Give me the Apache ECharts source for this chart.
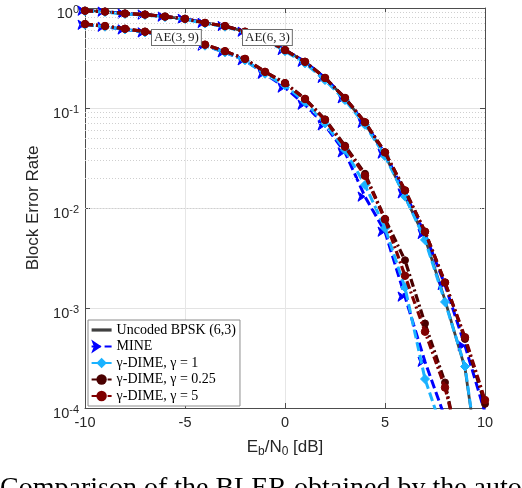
<!DOCTYPE html>
<html><head><meta charset="utf-8">
<script src="https://cdn.jsdelivr.net/npm/echarts@6/dist/echarts.min.js"></script>
<style>html,body{margin:0;padding:0;background:#fff}#c{width:522px;height:488px}</style>
</head><body><div id="c"></div>
<script>
// Eb/N0 [dB]
const snr = [-10,-9,-8,-7,-6,-5,-4,-3,-2,-1,0,1,2,3,4,5,6,7,8,9,10];
const xTicks = [-10,-5,0,5,10];
const yTickExponents = [0,-1,-2,-3,-4];

// AE(6,3) group
const uncoded63   = [0.94,0.92,0.88,0.86,0.82,0.78,0.71,0.66,0.58,0.49,0.38,0.29,0.20,0.125,0.070,0.034,0.013,0.0050,0.0012,0.00025,0.00001];
const mine63      = [0.94,0.92,0.88,0.86,0.82,0.78,0.71,0.66,0.58,0.49,0.38,0.29,0.20,0.125,0.071,0.035,0.014,0.0055,0.0017,0.00042,0.00009];
const gamma1_63   = [0.93,0.91,0.87,0.85,0.81,0.77,0.70,0.65,0.57,0.48,0.37,0.28,0.19,0.12,0.068,0.033,0.013,0.0048,0.00115,0.00026,0.00001];
const gamma025_63 = [0.94,0.92,0.88,0.86,0.82,0.78,0.71,0.66,0.58,0.49,0.38,0.29,0.20,0.126,0.072,0.036,0.015,0.0058,0.0018,0.00049,0.00011];
const gamma5_63   = [0.94,0.92,0.88,0.86,0.82,0.78,0.71,0.66,0.58,0.49,0.38,0.29,0.20,0.126,0.072,0.036,0.015,0.0058,0.0018,0.00051,0.00012];

// AE(3,9) group
const mine39      = [0.68,0.65,0.61,0.57,0.53,0.49,0.42,0.36,0.30,0.22,0.160,0.108,0.067,0.036,0.013,0.0058,0.0013,0.00029,0.00008,null,null];
const gamma1_39   = [0.68,0.65,0.61,0.57,0.53,0.49,0.42,0.36,0.30,0.22,0.168,0.115,0.070,0.038,0.017,0.0063,0.0016,0.000195,0.00005,null,null];
const gamma025_39 = [0.69,0.66,0.62,0.58,0.54,0.50,0.43,0.37,0.31,0.23,0.178,0.124,0.077,0.042,0.022,0.0078,0.0030,0.00070,0.00018,0.00002,null];
const gamma5_39   = [0.69,0.66,0.62,0.58,0.54,0.50,0.43,0.37,0.31,0.23,0.177,0.123,0.076,0.041,0.021,0.0077,0.0021,0.00058,0.00016,0.000025,null];

const names = ['Uncoded BPSK (6,3)','MINE','γ-DIME, γ = 1','γ-DIME, γ = 0.25','γ-DIME, γ = 5'];
const annotations = ['AE(3,\u20099)','AE(6,\u20093)'];
const caption = 'Comparison of the BLER obtained by the auto';

function pts(arr){ return snr.map((x,i)=>[x,arr[i]]); }

// minor grid lines (2..9 x 10^k)
const minorVals = [];
for (let e=-4;e<0;e++){ for(let m=2;m<=9;m++){ minorVals.push(m*Math.pow(10,e)); } }

const styles = {
  uncoded:  {color:'#404040', type:'solid', symbol:'none', size:0, width:2.8},
  mine:     {color:'#0000ff', type:[9,4], symbol:'arrow', size:7, rotate:-90, width:3},
  g1:       {color:'#1ab2ff', type:[9,4], symbol:'diamond', size:9, width:3},
  g025:     {color:'#4a0000', type:[8,3,2,3], symbol:'circle', size:7, width:3.2},
  g5:       {color:'#800000', type:[8,3,2,3], symbol:'circle', size:7.5, width:3.2}
};

function mk(name, data, st, z){
  return {
    name, type:'line', data: pts(data), z,
    symbol: st.symbol, symbolSize: st.size, symbolRotate: st.rotate || 0,
    showSymbol: st.symbol !== 'none',
    clip: true, connectNulls:false,
    lineStyle:{color:st.color, width: st.width, type:st.type},
    itemStyle:{color:st.color, borderColor:st.color},
    emphasis:{disabled:true}, animation:false
  };
}

const series = [
  mk(names[0], uncoded63, styles.uncoded, 2),
  mk(names[1], mine63, styles.mine, 3),
  mk(names[1], mine39, styles.mine, 3),
  mk(names[2], gamma1_63, styles.g1, 4),
  mk(names[2], gamma1_39, styles.g1, 4),
  mk(names[3], gamma025_63, styles.g025, 5),
  mk(names[3], gamma025_39, styles.g025, 5),
  mk(names[4], gamma5_63, styles.g5, 6),
  mk(names[4], gamma5_39, styles.g5, 6)
];
series[0].markLine = {
  silent:true, symbol:['none','none'], label:{show:false}, animation:false,
  lineStyle:{color:'#cfcfcf', type:[1,2], width:1},
  data: minorVals.map(v=>({yAxis:v}))
};

const axisColor = '#4d4d4d';
const sans = 'Liberation Sans, Arial, sans-serif';
const serif = 'Liberation Serif, Times New Roman, serif';

const option = {
  backgroundColor:'#fff',
  animation:false,
  grid:{left:85, right:37, top:8, bottom:80, containLabel:false},
  legend:{
    data:[{name:names[0], itemStyle:{opacity:0}, lineStyle:{width:3.2, color:'#404040'}}].concat(names.slice(1).map(n=>({name:n}))),
    orient:'vertical', left:88, top:320,
    backgroundColor:'#fff', borderColor:'#8c8c8c', borderWidth:1,
    padding:[3,4,3,2], itemGap:2.5, itemWidth:20, itemHeight:13,
    textStyle:{fontFamily:serif, fontSize:14, color:'#000'},
    selectedMode:false
  },
  xAxis:[{
    type:'value', min:-10, max:10, interval:5, position:'bottom',
    axisLine:{onZero:false, lineStyle:{color:axisColor}},
    axisTick:{inside:true, length:5, lineStyle:{color:axisColor}},
    axisLabel:{color:'#262626', fontSize:14.5, fontFamily:sans, margin:7,
      formatter:v=> xTicks.includes(v) ? String(v) : ''},
    splitLine:{show:true, lineStyle:{color:'#e6e6e6'}},
    name:'E{s|b}/N{s|0} [dB]', nameLocation:'middle', nameGap:29,
    nameTextStyle:{fontFamily:sans, fontSize:17, color:'#262626',
      rich:{s:{fontFamily:sans, fontSize:12, color:'#262626', padding:[9,0,0,0]}}}
  },{
    type:'value', min:-10, max:10, interval:5, position:'top',
    axisLine:{onZero:false, lineStyle:{color:axisColor}},
    axisTick:{inside:true, length:5, lineStyle:{color:axisColor}},
    axisLabel:{show:false}, splitLine:{show:false}
  }],
  yAxis:[{
    type:'log', logBase:10, min:1e-4, max:1, position:'left',
    axisLine:{onZero:false, lineStyle:{color:axisColor}},
    axisTick:{inside:true, length:5, lineStyle:{color:axisColor}},
    axisLabel:{color:'#262626', fontSize:14.5, fontFamily:sans, margin:6, padding:[12,0,0,0],
      formatter:v=>{ const e=Math.round(Math.log10(v)); return yTickExponents.includes(e) ? '{b|10}{p|'+e+'}' : ''; },
      rich:{b:{fontFamily:sans, fontSize:14.5, color:'#262626'},
            p:{fontFamily:sans, fontSize:11, color:'#262626', padding:[0,0,9,0]}}},
    splitLine:{show:true, lineStyle:{color:'#e3e3e3'}},
    name:'Block Error Rate', nameLocation:'middle', nameGap:28,
    nameTextStyle:{fontFamily:sans, fontSize:17, color:'#262626'}
  },{
    type:'log', logBase:10, min:1e-4, max:1, position:'right',
    axisLine:{onZero:false, lineStyle:{color:axisColor}},
    axisTick:{inside:true, length:5, lineStyle:{color:axisColor}},
    axisLabel:{show:false}, splitLine:{show:false}
  }],
  series,
  graphic:[
    {type:'text', left:151, top:29, z:100, style:{text:annotations[0], font:'13px '+serif, fill:'#222',
      backgroundColor:'#fff', borderColor:'#6e6e6e', borderWidth:1, padding:[1,2,1,2]}},
    {type:'text', left:242, top:29, z:100, style:{text:annotations[1], font:'13px '+serif, fill:'#222',
      backgroundColor:'#fff', borderColor:'#6e6e6e', borderWidth:1, padding:[1,2,1,2]}},
    {type:'text', left:0, top:475, z:100, style:{text:caption, font:'28px '+serif, fill:'#000'}}
  ]
};
const chart = echarts.init(document.getElementById('c'));
chart.setOption(option);
</script></body></html>
